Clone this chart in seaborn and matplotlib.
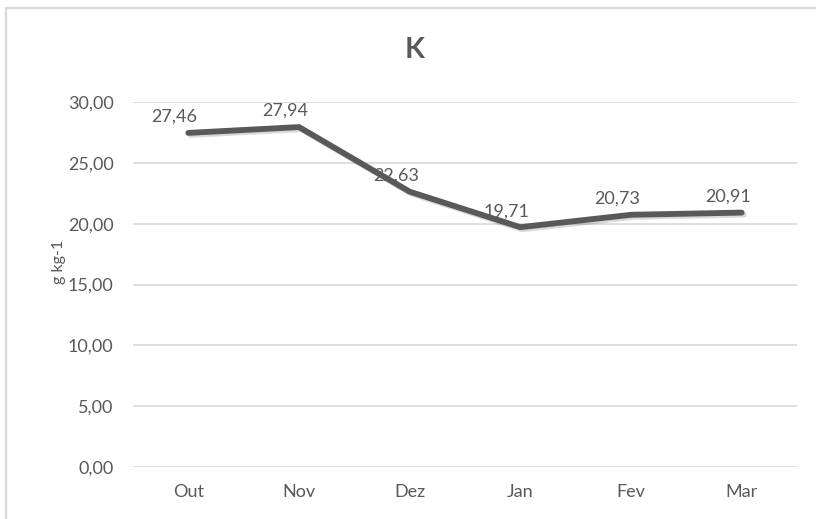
import matplotlib
matplotlib.use("Agg")
import matplotlib.pyplot as plt
import matplotlib.patheffects as pe
from matplotlib.lines import Line2D
from matplotlib.ticker import FuncFormatter
import pandas as pd
import seaborn as sns

# Data
months = ["Out", "Nov", "Dez", "Jan", "Fev", "Mar"]
k_values = [27.46, 27.94, 22.63, 19.71, 20.73, 20.91]
y_ticks = [0, 5, 10, 15, 20, 25, 30]

df = pd.DataFrame({"mes": months, "k": k_values})

sns.set_style("white")
plt.rcParams["font.family"] = ["Lato", "DejaVu Sans"]

text_color = "#595959"
grid_color = "#d9d9d9"

fig = plt.figure(figsize=(8.16, 5.19), dpi=100)
ax = fig.add_axes([133 / 816, 52 / 519, 664 / 816, 365 / 519])

sns.lineplot(data=df, x="mes", y="k", ax=ax, color="#595959", linewidth=4.2,
             sort=False, solid_capstyle="round", solid_joinstyle="miter",
             path_effects=[pe.SimpleLineShadow(offset=(1.5, -1.5), alpha=0.15, shadow_color="black"),
                           pe.Normal()])

# data labels
for i, v in enumerate(df["k"]):
    ax.annotate(f"{v:.2f}".replace(".", ","), (i, v), xytext=(-10, 11.5),
                textcoords="offset points", ha="center", va="center",
                fontsize=13, color=text_color, zorder=5)

ax.set_xlim(-0.5, len(months) - 0.5)
ax.set_ylim(0, 30)
ax.set_yticks(y_ticks)
ax.yaxis.set_major_formatter(FuncFormatter(lambda v, p: f"{v:.2f}".replace(".", ",")))
ax.grid(axis="y", color=grid_color, linewidth=1.2)
ax.set_axisbelow(True)
for s in ax.spines.values():
    s.set_visible(False)
ax.tick_params(axis="both", length=0, labelsize=13, labelcolor=text_color)
ax.tick_params(axis="y", pad=14)
ax.tick_params(axis="x", pad=12)
ax.set_xlabel("")
ax.set_ylabel("")

# title and axis label
fig.text(415 / 816, 1 - 50 / 519, "K", ha="center", va="center",
         fontsize=21, fontweight="bold", color=text_color)
fig.text(59 / 816, 1 - 262 / 519, "g kg-1", ha="center", va="center",
         rotation=90, fontsize=11.5, color=text_color)

# chart frame (top and left edges visible)
fig.add_artist(Line2D([6 / 816, 1], [1 - 8 / 519, 1 - 8 / 519],
                      transform=fig.transFigure, color=grid_color, linewidth=1.6))
fig.add_artist(Line2D([6 / 816, 6 / 816], [0, 1 - 8 / 519],
                      transform=fig.transFigure, color=grid_color, linewidth=1.6))

fig.savefig("out.png", dpi=100)
